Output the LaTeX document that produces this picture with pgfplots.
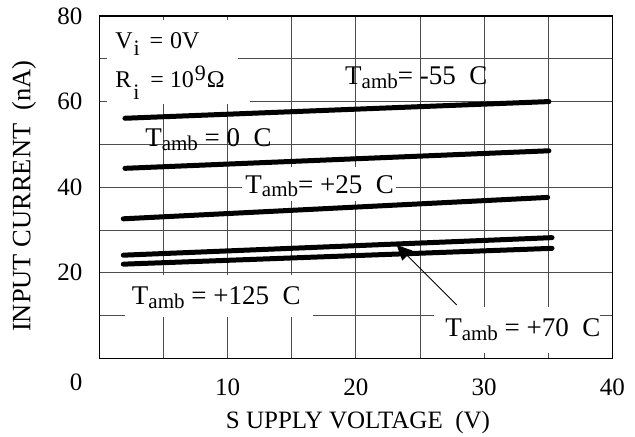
\documentclass[border=0pt]{standalone}
\usepackage{fontspec}
\setmainfont{Liberation Serif}
\usepackage{pgfplots}
\pgfplotsset{compat=1.18}
\usetikzlibrary{arrows.meta}

\newcommand{\Tamb}{T\raisebox{-0.13em}{\fontsize{21bp}{21bp}\selectfont amb}}

\begin{document}
\begin{tikzpicture}
\begin{axis}[
  at={(0,0)}, anchor=south west,
  scale only axis, width=513bp, height=342.3bp,
  xmin=0, xmax=40, ymin=0, ymax=80,
  xtick={10,20,30,40}, minor xtick={5,15,25,35},
  ytick={20,40,60,80}, minor ytick={10,30,50,70},
  extra y ticks={0},
  extra y tick style={grid=none, yticklabel style={yshift=-24.2bp}},
  grid=both,
  major grid style={black!70, line width=0.8bp},
  minor grid style={black!70, line width=0.8bp},
  major tick length=0pt, minor tick length=0pt,
  axis line style={black, line width=1.1bp},
  /pgf/number format/assume math mode=true,
  ticklabel style={font=\fontsize{25bp}{30bp}\selectfont, inner sep=0pt},
  xticklabel style={anchor=north, yshift=-20.5bp},
  yticklabel style={anchor=east, xshift=-16.8bp},
  xlabel={S UPPLY VOLTAGE\ \ (V)},
  ylabel={INPUT CURRENT\ \ (nA)},
  xlabel style={font=\fontsize{25bp}{30bp}\selectfont, at={(rel axis cs:0.5043,-0.2045)}, anchor=base, inner sep=0pt},
  ylabel style={font=\fontsize{26.5bp}{30bp}\selectfont, at={(rel axis cs:-0.1468,0.474)}, anchor=center, inner sep=0pt},
  clip=false,
]
% white backgrounds behind the labels (break the grid)
\fill[white] (axis cs:0.6,79.06) rectangle (axis cs:10.82,69.25);
\fill[white] (axis cs:0.6,69.25) rectangle (axis cs:11.75,59.4);
\fill[white] (axis cs:11.15,36.76) rectangle (axis cs:23.13,44.7);
\fill[white] (axis cs:2.01,9.65) rectangle (axis cs:16.66,19.47);
\fill[white] (axis cs:26.1,1.25) rectangle (axis cs:39.06,12.1);

% curves
\addplot[black, line width=5bp, line cap=round] coordinates {(2.0,56.1) (35.06,60.0)};  % -55 C
\addplot[black, line width=5bp, line cap=round] coordinates {(2.0,44.4) (35.06,48.5)};  % 0 C
\addplot[black, line width=5bp, line cap=round] coordinates {(1.87,32.6) (34.96,37.6)}; % +25 C
\addplot[black, line width=5bp, line cap=round] coordinates {(1.87,24.1) (35.3,28.2)};  % +70 C
\addplot[black, line width=5bp, line cap=round] coordinates {(1.87,22.0) (35.3,25.7)};  % +125 C

% annotations
\node[anchor=base west, inner sep=0pt, font=\fontsize{24bp}{24bp}\selectfont] at (axis cs:1.23,72.4)
  {V\hspace{1bp}\raisebox{-7bp}{\fontsize{22bp}{22bp}\selectfont i}\hspace{4bp} = \hspace{1bp}0V};
\node[anchor=base west, inner sep=0pt, font=\fontsize{24bp}{24bp}\selectfont] at (axis cs:1.23,63.3)
  {R\hspace{2bp}\raisebox{-12bp}{\fontsize{22bp}{22bp}\selectfont i}\hspace{5bp} = 10\hspace{1bp}\raisebox{7bp}{\fontsize{22bp}{22bp}\selectfont 9}\hspace{1bp}Ω};
\node[anchor=base west, inner sep=0pt, font=\fontsize{27bp}{27bp}\selectfont] at (axis cs:19.16,63.9) {\Tamb= -55\ \ C};
\node[anchor=base west, inner sep=0pt, font=\fontsize{27bp}{27bp}\selectfont] at (axis cs:3.57,49.45) {\Tamb\ = 0\ \ C};
\node[anchor=base west, inner sep=0pt, font=\fontsize{27bp}{27bp}\selectfont] at (axis cs:11.38,38.56) {\Tamb= +25\ \ C};
\node[anchor=base west, inner sep=0pt, font=\fontsize{27bp}{27bp}\selectfont] at (axis cs:2.53,12.46) {\Tamb\ = +125\ \ C};
\node[anchor=base west, inner sep=0pt, font=\fontsize{27bp}{27bp}\selectfont] at (axis cs:26.96,5.05) {\Tamb\ = +70\ \ C};

\draw[black, line width=0.9bp, -{Triangle[length=15bp,width=14bp]}] (axis cs:27.87,12.46) -- (axis cs:23.19,26.48);
\end{axis}
\pgfresetboundingbox
\path[use as bounding box] (-99.3bp,-78.7bp) rectangle (535.7bp,358.3bp);
\end{tikzpicture}
\end{document}
